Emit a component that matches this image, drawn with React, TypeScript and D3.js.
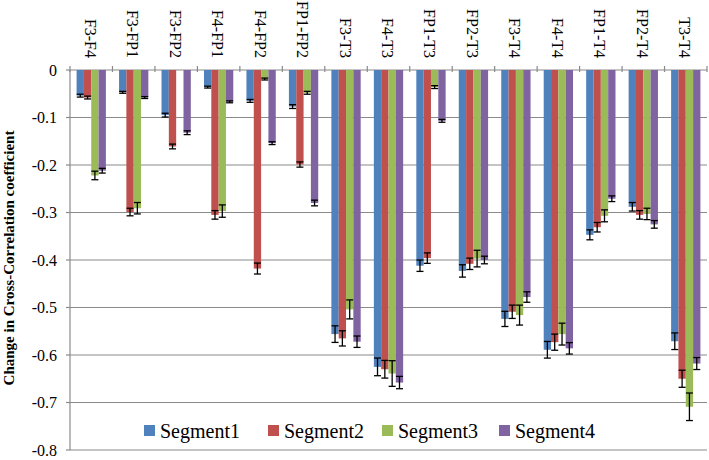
import React from "react";
import * as d3 from "d3";

const categories = ["F3-F4","F3-FP1","F3-FP2","F4-FP1","F4-FP2","FP1-FP2","F3-T3","F4-T3","FP1-T3","FP2-T3","F3-T4","F4-T4","FP1-T4","FP2-T4","T3-T4"];
const seriesNames = ["Segment1","Segment2","Segment3","Segment4"];
const seg1 = [-0.054,-0.047,-0.095,-0.036,-0.065,-0.077,-0.556,-0.625,-0.412,-0.423,-0.524,-0.589,-0.347,-0.288,-0.571];
const seg2 = [-0.058,-0.299,-0.161,-0.305,-0.418,-0.199,-0.565,-0.630,-0.396,-0.408,-0.509,-0.573,-0.331,-0.305,-0.650];
const seg3 = [-0.222,-0.291,0,-0.297,-0.019,-0.048,-0.504,-0.639,-0.036,-0.397,-0.516,-0.556,-0.307,-0.303,-0.709];
const seg4 = [-0.212,-0.058,-0.132,-0.067,-0.154,-0.280,-0.572,-0.658,-0.107,-0.400,-0.478,-0.586,-0.271,-0.325,-0.618];
const err1 = [0.003,0.002,0.004,0.002,0.003,0.004,0.0175,0.0186,0.012,0.013,0.016,0.0175,0.0105,0.009,0.0175];
const err2 = [0.003,0.008,0.005,0.009,0.0115,0.0055,0.016,0.0186,0.011,0.012,0.014,0.017,0.01,0.009,0.018];
const err3 = [0.009,0.012,0,0.013,0.002,0.003,0.02,0.027,0.003,0.0175,0.021,0.023,0.0126,0.012,0.029];
const err4 = [0.005,0.002,0.004,0.002,0.003,0.006,0.012,0.013,0.003,0.008,0.011,0.012,0.006,0.008,0.0126];
const yTicks = [0,-0.1,-0.2,-0.3,-0.4,-0.5,-0.6,-0.7,-0.8];
const yTickLabels = ["0","-0.1","-0.2","-0.3","-0.4","-0.5","-0.6","-0.7","-0.8"];
const colors = ["#4F81BD","#C0504D","#9BBB59","#8064A2"];

const values = [seg1, seg2, seg3, seg4];
const errors = [err1, err2, err3, err4];

export default function App() {
  const W = 709, H = 460;
  const left = 70, right = 707, top = 70, bottom = 450;
  const font = "\"Liberation Serif\", \"DejaVu Serif\", \"Times New Roman\", serif";
  const x = d3.scaleBand<string>().domain(categories).range([left, right]).paddingInner(0).paddingOuter(0);
  const y = d3.scaleLinear().domain([0, -0.8]).range([top, bottom]);
  const bw = x.bandwidth();
  const inner = d3.scaleBand<string>().domain(seriesNames).range([bw * 0.155, bw * 0.845]);
  const grid = "#8a8a8a";
  const legendX = [144, 268, 382, 499];
  const tstyle = { fontFamily: font };

  return (
    <div style={{ position: "absolute", left: 0, top: 0 }}>
      <svg width={W} height={H} style={{ display: "block", background: "#fff", fontFamily: font }}>
        {yTicks.map((t, i) => (
          <g key={"g" + i}>
            <line x1={left} x2={right} y1={y(t)} y2={y(t)} stroke={grid} strokeWidth={1.2} />
            <line x1={left - 4} x2={left} y1={y(t)} y2={y(t)} stroke={grid} strokeWidth={1.2} />
            <text x={57} y={y(t)} textAnchor="end" dominantBaseline="central" style={tstyle} fontSize={16} fill="#000">{yTickLabels[i]}</text>
          </g>
        ))}
        <line x1={left} x2={left} y1={top} y2={bottom} stroke={grid} strokeWidth={1.2} />
        {d3.range(categories.length + 1).map((i) => {
          const xx = left + i * bw;
          return <line key={"t" + i} x1={xx} x2={xx} y1={top - 4} y2={top + 2} stroke={grid} strokeWidth={1.2} />;
        })}
        {categories.map((c, ci) => (
          <text key={"c" + ci} transform={`translate(${(x(c) as number) + bw / 2 - 1},58) rotate(90)`} textAnchor="end" dominantBaseline="central" style={tstyle} fontSize={16} fill="#000">{c}</text>
        ))}
        {values.map((vals, si) =>
          vals.map((v, ci) => {
            const bx = (x(categories[ci]) as number) + (inner(seriesNames[si]) as number);
            const w = inner.bandwidth();
            return (
              <rect key={`b${si}-${ci}`} x={bx} y={y(0)} width={w} height={Math.max(0, y(v) - y(0))} fill={colors[si]} />
            );
          })
        )}
        {values.map((vals, si) =>
          vals.map((v, ci) => {
            const e = errors[si][ci];
            if (v === 0) return null;
            const cx = (x(categories[ci]) as number) + (inner(seriesNames[si]) as number) + inner.bandwidth() / 2;
            const y1 = y(v - e), y2 = y(v + e);
            return (
              <g key={`e${si}-${ci}`} stroke="#000" strokeWidth={1.3}>
                <line x1={cx} x2={cx} y1={y1} y2={y2} />
                <line x1={cx - 3.5} x2={cx + 3.5} y1={y1} y2={y1} />
                <line x1={cx - 3.5} x2={cx + 3.5} y1={y2} y2={y2} />
              </g>
            );
          })
        )}
        <text transform={`translate(14,258) rotate(-90)`} textAnchor="middle" style={tstyle} fontSize={15} fontWeight="bold" fill="#000">Change in Cross-Correlation coefficient</text>
        {seriesNames.map((n, i) => (
          <g key={"l" + i}>
            <rect x={legendX[i]} y={425} width={11} height={11} fill={colors[i]} />
            <text x={legendX[i] + 16} y={438} style={tstyle} fontSize={20} fill="#000">{n}</text>
          </g>
        ))}
      </svg>
    </div>
  );
}
